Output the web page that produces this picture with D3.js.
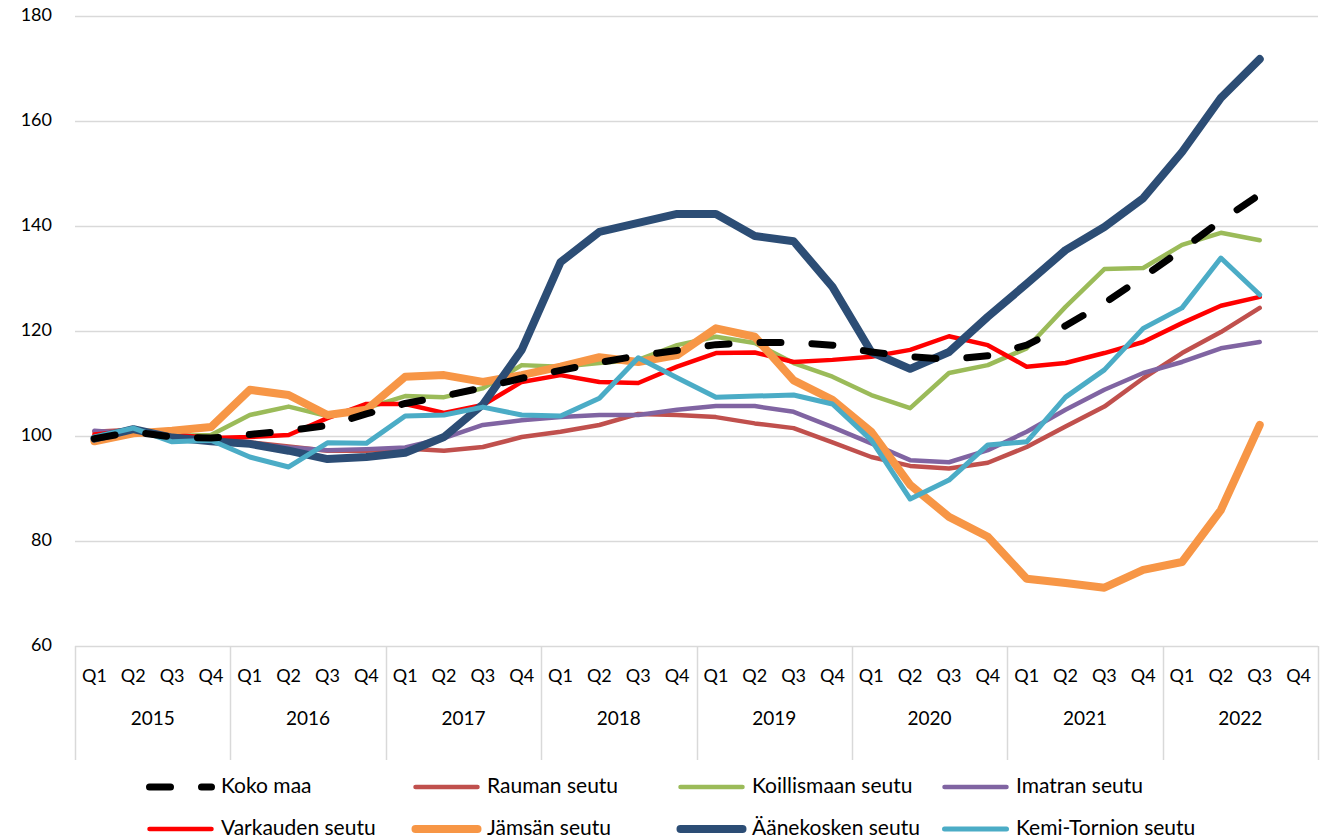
<!DOCTYPE html>
<html lang="fi">
<head>
<meta charset="utf-8">
<title>Hintaindeksi seuduittain</title>
<script src="https://cdn.jsdelivr.net/npm/d3@7"></script>
<style>
  body { margin: 0; background: #fff; }
  svg text { font-family: Lato, "Open Sans", sans-serif; fill: #000; }
</style>
</head>
<body>
<script>
// chart size
var w = 1322, h = 840;
var mLeft = 75, mRight = 1318, mTop = 16, mBottom = 646;

// data
var years = ["2015", "2016", "2017", "2018", "2019", "2020", "2021", "2022"];
var quarters = ["Q1", "Q2", "Q3", "Q4"];
var yTicks = [60, 80, 100, 120, 140, 160, 180];

var kokoMaa     = [99.5, 100.8, 99.8, 99.6, 100.3, 101, 102, 104.2, 106.2, 107.6, 109.2, 111, 112.5, 114, 115.3, 116.3, 117.4, 117.8, 117.8, 117.3, 116, 115.1, 114.6, 115.3, 117.3, 121, 125.3, 130.3, 135.5, 141, 146];
var rauman      = [100.8, 101.2, 100, 99.5, 98.8, 98, 97.2, 97.2, 97.6, 97.2, 97.9, 99.8, 100.8, 102.1, 104.2, 104, 103.6, 102.4, 101.5, 98.8, 96, 94.3, 93.8, 94.9, 97.9, 101.8, 105.6, 111, 115.8, 119.8, 124.4];
var koillismaan = [99.5, 101, 100, 100.2, 104, 105.6, 103.8, 105.3, 107.6, 107.4, 109.1, 113.5, 113.2, 113.9, 114.5, 117.3, 118.9, 117.7, 113.9, 111.3, 107.8, 105.3, 112, 113.5, 116.7, 124.6, 131.8, 132, 136.4, 138.7, 137.3];
var imatran     = [101, 100.5, 100, 99.5, 98.5, 97.8, 97.3, 97.5, 97.8, 99.6, 102.1, 103, 103.6, 104, 104, 105, 105.7, 105.7, 104.6, 101.7, 98.6, 95.4, 95, 97.3, 100.8, 105, 108.8, 112, 114.1, 116.7, 117.9];
var varkauden   = [100.3, 101, 100.3, 99.6, 99.8, 100.2, 103.4, 106.1, 106.1, 104.4, 105.9, 110.3, 111.6, 110.3, 110.1, 113.2, 115.8, 115.9, 114.1, 114.5, 115.1, 116.4, 119, 117.3, 113.2, 113.9, 115.8, 117.9, 121.5, 124.8, 126.5];
var jamsan      = [99, 100.5, 101, 101.7, 108.8, 107.8, 104, 105, 111.3, 111.6, 110.3, 111.6, 113.2, 115, 114.1, 115.4, 120.5, 118.9, 110.6, 106.9, 100.8, 90.7, 84.6, 80.8, 72.8, 72, 71.1, 74.5, 76, 85.9, 102.1];
var aanekosken  = [99.5, 101.3, 99.7, 99, 98.5, 97.2, 95.6, 96, 96.8, 99.8, 106, 116.4, 133.1, 138.9, 140.6, 142.3, 142.3, 138.1, 137.1, 128.4, 116, 112.8, 116, 122.7, 129, 135.4, 139.8, 145.3, 154.1, 164.4, 171.8];
var kemiTornion = [99.8, 101.5, 98.9, 99.2, 96, 94.1, 98.7, 98.6, 103.8, 104, 105.5, 104, 103.8, 107.2, 114.9, 111.1, 107.4, 107.6, 107.8, 106.1, 99.2, 88, 91.6, 98.3, 98.9, 107.4, 112.6, 120.5, 124.4, 133.9, 126.9];

var series = [
  { name: "Koko maa",          values: kokoMaa,     color: "#000000", width: 7,   dash: "21,31" },
  { name: "Rauman seutu",      values: rauman,      color: "#C0504D", width: 4.5 },
  { name: "Koillismaan seutu", values: koillismaan, color: "#9BBB59", width: 4.5 },
  { name: "Imatran seutu",     values: imatran,     color: "#8064A2", width: 4.5 },
  { name: "Varkauden seutu",   values: varkauden,   color: "#FF0000", width: 4.5 },
  { name: "Jämsän seutu",      values: jamsan,      color: "#F79646", width: 8 },
  { name: "Äänekosken seutu",  values: aanekosken,  color: "#2C4D75", width: 8 },
  { name: "Kemi-Tornion seutu",values: kemiTornion, color: "#4BACC6", width: 5 }
];

// categories: one per quarter
var cats = [];
years.forEach(function(y) {
  quarters.forEach(function(q) { cats.push(y + " " + q); });
});

var svg = d3.select("body").append("svg")
  .attr("width", w)
  .attr("height", h);

var x = d3.scaleBand().domain(cats).range([mLeft, mRight]).padding(0);
var y = d3.scaleLinear().domain([60, 180]).range([mBottom, mTop]);

// gridlines
svg.append("g")
  .selectAll("line")
  .data(yTicks)
  .enter()
  .append("line")
  .attr("x1", mLeft).attr("x2", mRight)
  .attr("y1", function(d) { return Math.round(y(d)) + 0.5; })
  .attr("y2", function(d) { return Math.round(y(d)) + 0.5; })
  .attr("stroke", "#D9D9D9")
  .attr("stroke-width", 1.5);

// y labels
svg.append("g")
  .selectAll("text")
  .data(yTicks)
  .enter()
  .append("text")
  .attr("x", 52)
  .attr("y", function(d) { return y(d); })
  .attr("text-anchor", "end")
  .attr("dominant-baseline", "middle")
  .style("font-size", "18px")
  .text(function(d) { return d; });

// quarter labels
svg.append("g")
  .selectAll("text")
  .data(cats)
  .enter()
  .append("text")
  .attr("x", function(d) { return x(d) + x.bandwidth() / 2; })
  .attr("y", 677)
  .attr("text-anchor", "middle")
  .attr("dominant-baseline", "middle")
  .style("font-size", "18px")
  .text(function(d) { return d.split(" ")[1]; });

// year labels
svg.append("g")
  .selectAll("text")
  .data(years)
  .enter()
  .append("text")
  .attr("x", function(d) { return (x(d + " Q1") + x(d + " Q4") + x.bandwidth()) / 2; })
  .attr("y", 720)
  .attr("text-anchor", "middle")
  .attr("dominant-baseline", "middle")
  .style("font-size", "19px")
  .text(function(d) { return d; });

// year separators
var seps = years.map(function(d) { return x(d + " Q1"); }).concat([mRight]);
svg.append("g")
  .selectAll("line")
  .data(seps)
  .enter()
  .append("line")
  .attr("x1", function(d) { return Math.round(d) + 0.5; })
  .attr("x2", function(d) { return Math.round(d) + 0.5; })
  .attr("y1", mBottom).attr("y2", 760)
  .attr("stroke", "#D9D9D9")
  .attr("stroke-width", 1.5);

// lines
var line = d3.line()
  .x(function(d, i) { return x(cats[i]) + x.bandwidth() / 2; })
  .y(function(d) { return y(d); });

// Koko maa goes on top
var drawOrder = series.slice(1).concat([series[0]]);
svg.append("g")
  .selectAll("path")
  .data(drawOrder)
  .enter()
  .append("path")
  .attr("d", function(d) { return line(d.values); })
  .attr("fill", "none")
  .attr("stroke", function(d) { return d.color; })
  .attr("stroke-width", function(d) { return d.width; })
  .attr("stroke-dasharray", function(d) { return d.dash || null; })
  .attr("stroke-linejoin", "round")
  .attr("stroke-linecap", "round");

// legend
var colX = [146, 412, 677, 941];
var rowY = [787, 829];
var leg = svg.append("g")
  .selectAll("g")
  .data(series)
  .enter()
  .append("g")
  .attr("transform", function(d, i) {
    return "translate(" + colX[i % 4] + "," + rowY[Math.floor(i / 4)] + ")";
  });

leg.append("line")
  .attr("x1", 3.5).attr("x2", 65.5)
  .attr("y1", 0).attr("y2", 0)
  .attr("stroke", function(d) { return d.color; })
  .attr("stroke-width", function(d) { return d.width; })
  .attr("stroke-dasharray", function(d) { return d.dash || null; })
  .attr("stroke-linecap", "round");

leg.append("text")
  .attr("x", 75)
  .attr("y", 1)
  .attr("dominant-baseline", "middle")
  .style("font-size", "21px")
  .text(function(d) { return d.name; });
</script>
</body>
</html>
